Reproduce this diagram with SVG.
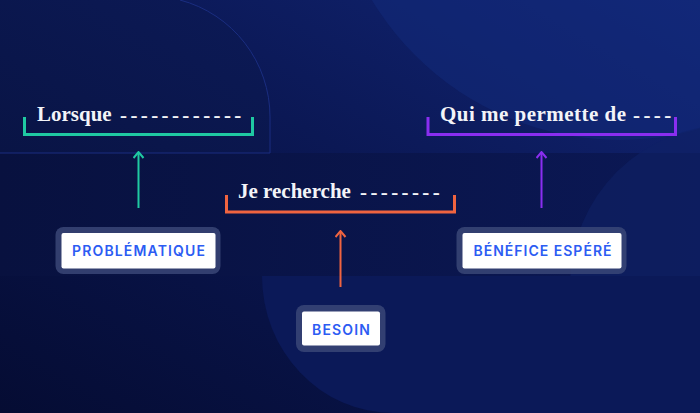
<svg xmlns="http://www.w3.org/2000/svg" width="700" height="413" viewBox="0 0 700 413">
  <defs>
    <linearGradient id="bg" x1="0" y1="1" x2="1" y2="0">
      <stop offset="0" stop-color="#050c33"/>
      <stop offset="0.5" stop-color="#0a1650"/>
      <stop offset="1" stop-color="#122677"/>
    </linearGradient>
    <linearGradient id="panel" x1="0" y1="1" x2="1" y2="0">
      <stop offset="0" stop-color="#091445"/>
      <stop offset="1" stop-color="#0c1a57"/>
    </linearGradient>
    <linearGradient id="band" x1="0" y1="0" x2="1" y2="0">
      <stop offset="0" stop-color="#08113f"/>
      <stop offset="1" stop-color="#0b1855"/>
    </linearGradient>
    <marker id="head" viewBox="0 0 8 12" refX="7" refY="6" markerWidth="8" markerHeight="12" markerUnits="userSpaceOnUse" orient="auto">
      <path d="M1,1 L7,6 L1,11" fill="none" stroke="context-stroke" stroke-width="2"/>
    </marker>
    <style>
      .head { font-family: "Liberation Serif", "DejaVu Serif", serif; font-weight: bold; font-size: 21px; fill: #f3f4f8; }
      .dash { letter-spacing: 3.4px; }
      .halo { fill: #3a4677; fill-opacity: 0.85; }
      .card { fill: #ffffff; }
      .lbl { font-family: Inter, "Liberation Sans", sans-serif; font-weight: 600; font-size: 14px; fill: #2c5cf3; text-anchor: middle; }
      .brk { fill: none; stroke-width: 3; }
      .arr { fill: none; stroke-width: 2; }
    </style>
  </defs>

  <!-- background -->
  <rect x="0" y="0" width="700" height="413" fill="url(#bg)"/>
  <circle cx="620" cy="-150" r="290" fill="#13297a" fill-opacity="0.55"/>
  <rect x="0" y="153" width="700" height="123" fill="url(#band)"/>
  <circle cx="730" cy="285" r="160" fill="#0f2266" fill-opacity="0.6"/>
  <path d="M262,276 H700 V413 H393 A131,137 0 0 1 262,276 Z" fill="#0b1958"/>
  <path d="M0,0 H180 A121,121 0 0 1 270,117 V153 H0 Z" fill="url(#panel)"/>
  <path d="M180,0 A121,121 0 0 1 270,117 V153 H0" fill="none" stroke="#1a2d80" stroke-width="1"/>

  <!-- connectors -->
  <g id="connectors">
    <path class="arr" d="M138.5,208 V152" stroke="#1fc9a2" marker-end="url(#head)"/>
    <path class="arr" d="M340.5,287 V231" stroke="#f06440" marker-end="url(#head)"/>
    <path class="arr" d="M541.5,208 V152" stroke="#8a2ef0" marker-end="url(#head)"/>
  </g>

  <!-- sentence brackets -->
  <g id="lorsque">
    <path class="brk" d="M24.5,117 V134.5 H252.5 V117" stroke="#1fc9a2"/>
    <text class="head" x="37" y="121">Lorsque <tspan class="dash" x="120" dy="1">------------</tspan></text>
  </g>
  <g id="je-recherche">
    <path class="brk" d="M226.5,195 V212 H454.5 V195" stroke="#f06440"/>
    <text class="head" x="238" y="198">Je recherche <tspan class="dash" x="360" dy="1">--------</tspan></text>
  </g>
  <g id="qui-me-permette">
    <path class="brk" d="M428,117 V134.5 H675.5 V117" stroke="#8a2ef0"/>
    <text class="head" x="440" y="121" textLength="186" lengthAdjust="spacing">Qui me permette de</text>
    <text class="head dash" x="633" y="122">----</text>
  </g>

  <!-- labels -->
  <g id="problematique">
    <rect class="halo" x="55.5" y="227" width="165" height="47" rx="8"/>
    <rect class="card" x="61.5" y="233" width="154" height="35.5" rx="2"/>
    <text class="lbl" x="138.5" y="256" textLength="133" lengthAdjust="spacing">PROBLÉMATIQUE</text>
  </g>
  <g id="besoin">
    <rect class="halo" x="296" y="305" width="89.5" height="47" rx="8"/>
    <rect class="card" x="302" y="311.5" width="78" height="34" rx="2"/>
    <text class="lbl" x="341" y="334.5" textLength="58" lengthAdjust="spacing">BESOIN</text>
  </g>
  <g id="benefice">
    <rect class="halo" x="456.5" y="227" width="170" height="47" rx="8"/>
    <rect class="card" x="462.5" y="233" width="159" height="35.5" rx="2"/>
    <text class="lbl" x="542.5" y="256" textLength="138" lengthAdjust="spacing">BÉNÉFICE ESPÉRÉ</text>
  </g>
</svg>
